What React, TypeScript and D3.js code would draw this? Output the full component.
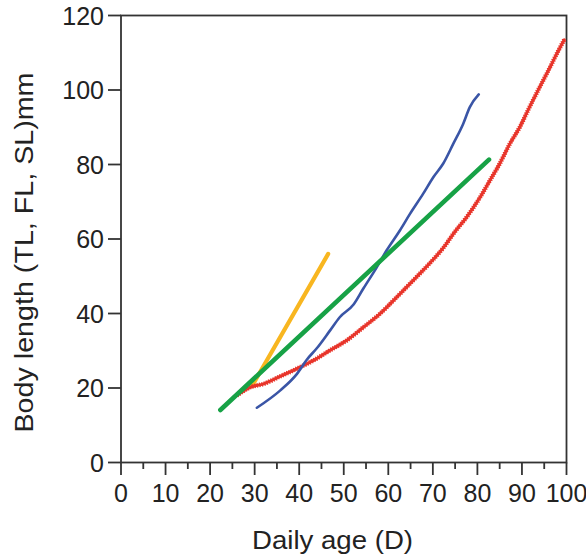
import React from "react";
import * as d3 from "d3";

const xTicks = [0, 10, 20, 30, 40, 50, 60, 70, 80, 90, 100];
const xMinor = [5, 15, 25, 35, 45, 55, 65, 75, 85, 95];
const yTicks = [0, 20, 40, 60, 80, 100, 120];

const orangeAge = [29.4, 46.5];
const orangeLen = [20.5, 56.0];

const greenAge = [22.3, 82.6];
const greenLen = [14.1, 81.3];

const blueAge = [30.5, 35.7, 39.5, 41.7, 43.9, 46.9, 49.1, 52.2, 54.4, 57.4, 59.6, 62.6, 64.9, 67.8, 70.1, 72.3, 74.6, 76.8, 78.3, 80.3];
const blueLen = [14.7, 19.3, 23.8, 27.6, 30.6, 35.4, 39.0, 42.4, 46.7, 52.4, 56.9, 62.3, 66.8, 72.1, 76.6, 80.2, 85.6, 90.9, 95.4, 98.8];

const redAge = [26.0, 29.0, 32.0, 35.7, 39.5, 43.2, 46.9, 50.7, 54.4, 58.1, 61.9, 65.6, 69.4, 72.6, 74.6, 77.6, 80.6, 82.8, 85.0, 87.3, 89.5, 91.7, 94.0, 96.3, 97.8, 99.5];
const redLen = [18.0, 20.2, 21.1, 23.1, 25.2, 27.4, 30.1, 32.8, 36.3, 39.9, 44.4, 48.9, 53.6, 58.0, 61.4, 65.9, 71.2, 75.7, 80.2, 85.6, 90.0, 95.4, 100.8, 106.1, 109.7, 113.5];

const FONT = "'Liberation Sans', Arial, sans-serif";

export default function App() {
  const x = d3.scaleLinear().domain([0, 100]).range([121, 566.5]);
  const y = d3.scaleLinear().domain([0, 120]).range([462.5, 15.5]);
  const line = d3
    .line<[number, number]>()
    .x((d) => x(d[0]))
    .y((d) => y(d[1]))
    .curve(d3.curveMonotoneX);
  const pts = (a: number[], b: number[]) => a.map((v, i) => [v, b[i]] as [number, number]);
  const axisColor = "#333";
  const redPath = line(pts(redAge, redLen)) || "";
  return (
    <svg width={586} height={554} style={{ position: "absolute", left: 0, top: 0, background: "#fff" }}>
      <rect x={x(0)} y={y(120)} width={x(100) - x(0)} height={y(0) - y(120)} fill="none" stroke={axisColor} strokeWidth={1.8} />
      {yTicks.map((t) => (
        <g key={"y" + t}>
          <line x1={108} x2={x(0)} y1={y(t)} y2={y(t)} stroke={axisColor} strokeWidth={1.8} />
          <text x={104} y={y(t)} dy="0.36em" textAnchor="end" fontSize={25} fontFamily={FONT} fill="#222">
            {t}
          </text>
        </g>
      ))}
      {xTicks.map((t) => (
        <g key={"x" + t}>
          <line x1={x(t)} x2={x(t)} y1={y(0)} y2={475} stroke={axisColor} strokeWidth={1.8} />
          <text x={x(t)} y={502} textAnchor="middle" fontSize={25} fontFamily={FONT} fill="#222">
            {t}
          </text>
        </g>
      ))}
      {xMinor.map((t) => (
        <line key={"m" + t} x1={x(t)} x2={x(t)} y1={y(0)} y2={469} stroke={axisColor} strokeWidth={1.8} />
      ))}
      <path d={line(pts(orangeAge, orangeLen)) || ""} fill="none" stroke="#f8b620" strokeWidth={4.2} strokeLinecap="round" />
      <path d={redPath} fill="none" stroke="#e8352b" strokeWidth={3} strokeLinecap="round" />
      <path d={redPath} fill="none" stroke="#e8352b" strokeWidth={4.6} strokeDasharray="1.2 1.3" />
      <path d={line(pts(blueAge, blueLen)) || ""} fill="none" stroke="#3a55a6" strokeWidth={2.6} strokeLinecap="round" />
      <path d={line(pts(greenAge, greenLen)) || ""} fill="none" stroke="#17a246" strokeWidth={4.6} strokeLinecap="round" />
      <text x={332.5} y={549} textAnchor="middle" fontSize={26} fontFamily={FONT} fill="#222" textLength={161} lengthAdjust="spacingAndGlyphs">
        Daily age (D)
      </text>
      <text
        transform={`translate(33,${252.5}) rotate(-90)`}
        textAnchor="middle"
        fontSize={26}
        fontFamily={FONT}
        fill="#222"
        textLength={360}
        lengthAdjust="spacingAndGlyphs"
      >
        Body length (TL, FL, SL)mm
      </text>
    </svg>
  );
}
